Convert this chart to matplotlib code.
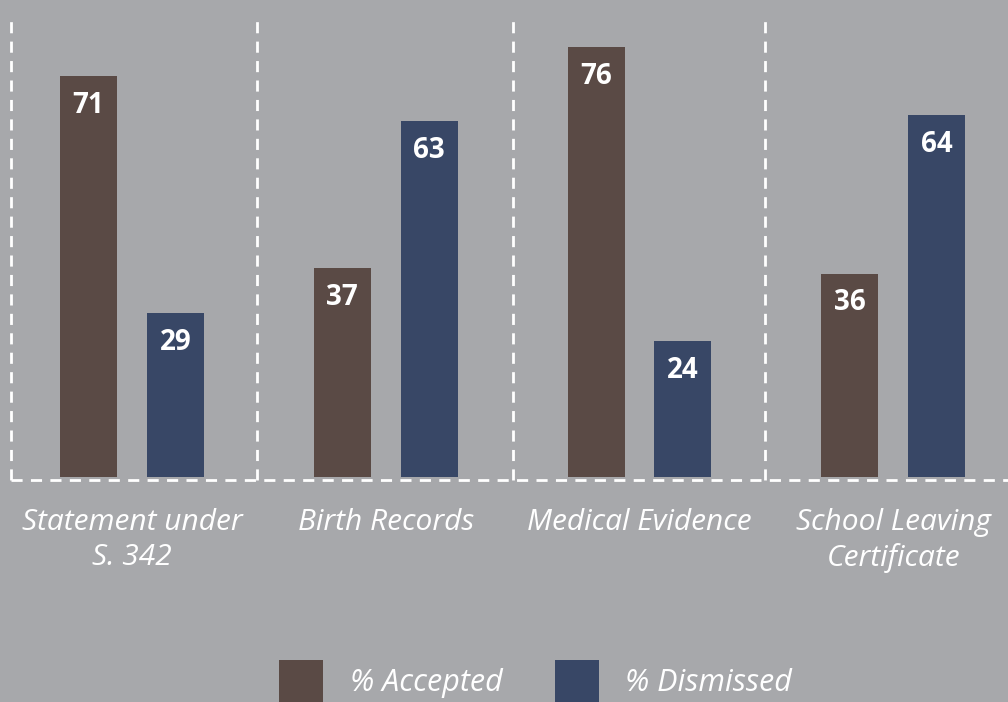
import matplotlib
matplotlib.use("Agg")
import matplotlib.pyplot as plt
import numpy as np
from matplotlib.patches import Patch

categories = ["Statement under\nS. 342", "Birth Records", "Medical Evidence", "School Leaving\nCertificate"]
accepted = [71, 37, 76, 36]
dismissed = [29, 63, 24, 64]
series_names = ["% Accepted", "% Dismissed"]

bg = "#a7a8ab"
c_acc = "#5a4a45"
c_dis = "#384766"

fig = plt.figure(figsize=(10.08, 7.02), dpi=100, facecolor=bg)
ax = fig.add_axes([0, 0, 1, 1], facecolor=bg)
ax.set_xlim(-0.52, 3.452)
ax.set_ylim(-39.8, 84.4)
ax.axis("off")

x = np.arange(len(categories))
off = 0.171
w = 0.225
b1 = ax.bar(x - off, accepted, w, color=c_acc, zorder=3)
b2 = ax.bar(x + off, dismissed, w, color=c_dis, zorder=3)

for bars, vals in ((b1, accepted), (b2, dismissed)):
    for r, v in zip(bars, vals):
        ax.text(r.get_x() + r.get_width() / 2, v - 5.2, str(v), ha="center", va="center",
                color="white", fontsize=20, fontweight="bold", family="Open Sans", zorder=4)

# dashed dividers
ls = (0, (4, 3))
for xv in [-0.477, 0.4925, 1.501, 2.494]:
    ax.plot([xv, xv], [-0.53, 81.8], color="white", lw=2, linestyle=ls, zorder=2)
ax.plot([-0.477, 3.452], [-0.53, -0.53], color="white", lw=2, linestyle=ls, zorder=2)

for xi, lab in zip(x, categories):
    ax.text(xi, -5.4, lab, ha="center", va="top", color="white", fontsize=21.5,
            style="italic", family="Open Sans", linespacing=1.3)

handles = [Patch(facecolor=c_acc), Patch(facecolor=c_dis)]
leg = fig.legend(handles, series_names, loc="center left", bbox_to_anchor=(279 / 1008, 1 - 681 / 702),
                 ncol=2, frameon=False, handlelength=1.44, handleheight=1.72,
                 handletextpad=0.88, columnspacing=1.7, borderpad=0, borderaxespad=0,
                 prop={"family": "Open Sans", "style": "italic", "size": 22})
for t in leg.get_texts():
    t.set_color("white")

fig.savefig("out.png", dpi=100, facecolor=bg)
